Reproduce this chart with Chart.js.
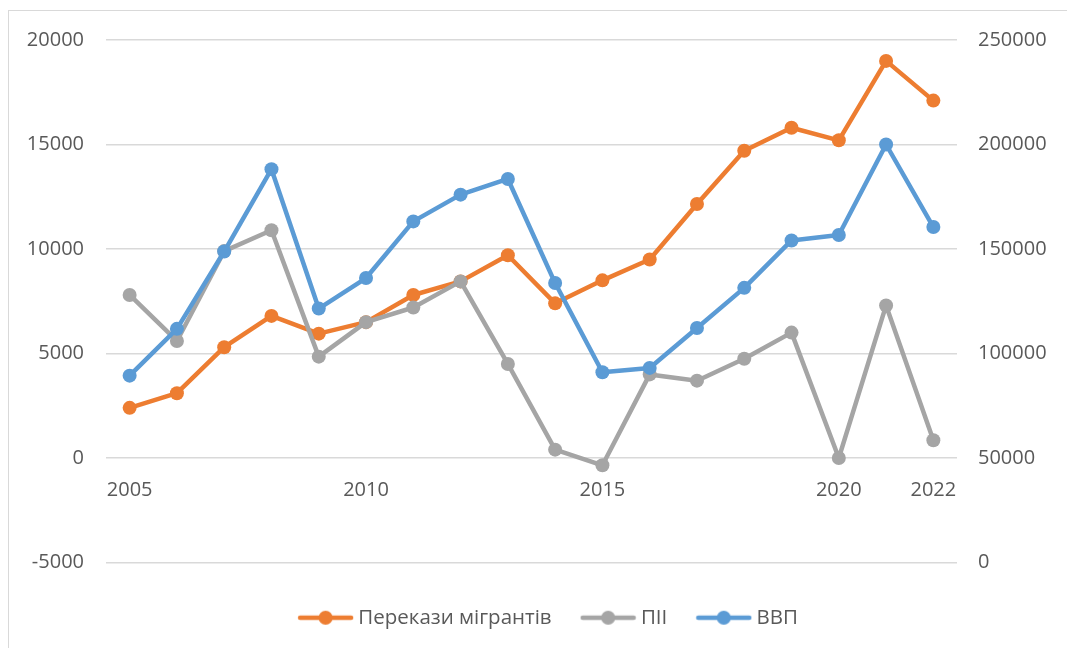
<!DOCTYPE html>
<html>
<head>
<meta charset="utf-8">
<script src="https://cdn.jsdelivr.net/npm/chart.js@4/dist/chart.umd.min.js"></script>
<style>
  html, body { margin: 0; padding: 0; background: #fff; overflow: hidden; }
  #frame { position: absolute; left: 8px; top: 10px; width: 1200px; height: 800px; border: 1px solid #d9d9d9; }
  #graphCanvas { position: absolute; left: 0; top: 0; }
</style>
</head>
<body>
<div id="frame"></div>
<canvas id="graphCanvas" width="1067" height="648"></canvas>
<script>
// Роки
const years = ['2005', '2006', '2007', '2008', '2009', '2010', '2011', '2012', '2013',
               '2014', '2015', '2016', '2017', '2018', '2019', '2020', '2021', '2022'];
// Підписи, які видно на осі
const shownYears = ['2005', '2010', '2015', '2020', '2022'];

// Перекази мігрантів (ліва вісь)
const remittances = [2400, 3100, 5300, 6800, 5950, 6500, 7800, 8450, 9700,
                     7400, 8500, 9500, 12150, 14700, 15800, 15200, 19000, 17100];
// ПІІ (ліва вісь)
const fdi = [7800, 5600, 9900, 10900, 4850, 6500, 7200, 8450, 4500,
             400, -350, 4000, 3700, 4750, 6000, 0, 7300, 850];
// ВВП (права вісь)
const gdp = [89400, 111800, 148800, 188200, 121500, 136100, 163200, 176000, 183500,
             133700, 91000, 93100, 112200, 131400, 154100, 156700, 200000, 160500];

const names = ['Перекази мігрантів', 'ПІІ', 'ВВП'];
const colors = ['#ED7D31', '#A5A5A5', '#5B9BD5'];

const textColor = '#595959';
const font = { family: 'Open Sans, Liberation Sans, sans-serif', size: 20 };
const legendFont = { family: 'Open Sans, Liberation Sans, sans-serif', size: 20.5 };

// маркер легенди: лінія з кружечком
function legendMarker(color) {
    const c = document.createElement('canvas');
    c.width = 57;
    c.height = 16;
    const g = c.getContext('2d');
    g.strokeStyle = color;
    g.lineWidth = 4.5;
    g.lineCap = 'round';
    g.beginPath();
    g.moveTo(3, 8);
    g.lineTo(54, 8);
    g.stroke();
    g.fillStyle = color;
    g.beginPath();
    g.arc(28.5, 8, 7, 0, Math.PI * 2);
    g.fill();
    return c;
}
const markers = colors.map(legendMarker);

// легенда в Excel трохи зсунута вправо від центру
const legendShift = {
    id: 'legendShift',
    afterLayout(chart) {
        chart.legend.left += 17;
        chart.legend.right += 17;
    }
};

function series(i, data, axis, order) {
    return {
        label: names[i],
        data: data,
        yAxisID: axis,
        order: order,
        borderColor: colors[i],
        backgroundColor: colors[i],
        borderWidth: 4.5,
        borderJoinStyle: 'round',
        borderCapStyle: 'round',
        pointRadius: 7,
        pointBorderWidth: 0,
        pointBackgroundColor: colors[i],
        tension: 0
    };
}

const plain = v => String(v);

const ctx = document.getElementById('graphCanvas').getContext('2d');
const chart = new Chart(ctx, {
    type: 'line',
    data: {
        labels: years,
        datasets: [
            series(0, remittances, 'y', 3),
            series(1, fdi, 'y', 2),
            series(2, gdp, 'y1', 1)
        ]
    },
    plugins: [legendShift],
    options: {
        responsive: false,
        animation: false,
        layout: { padding: { top: 40, bottom: 10, left: 0, right: 0 } },
        plugins: {
            tooltip: { enabled: false },
            legend: {
                position: 'bottom',
                labels: {
                    color: textColor,
                    font: legendFont,
                    padding: 34,
                    usePointStyle: true,
                    pointStyleWidth: 45,
                    generateLabels(chart) {
                        const items = Chart.defaults.plugins.legend.labels.generateLabels(chart);
                        items.forEach(it => { it.pointStyle = markers[it.datasetIndex]; });
                        return items;
                    },
                    sort: (a, b) => a.datasetIndex - b.datasetIndex
                }
            }
        },
        scales: {
            x: {
                type: 'category',
                offset: true,
                position: { y: 0 },
                grid: { display: false, drawTicks: false },
                border: { display: false },
                ticks: {
                    color: textColor,
                    font: font,
                    padding: 20,
                    autoSkip: false,
                    maxRotation: 0,
                    callback: function (value) {
                        const lbl = this.getLabelForValue(value);
                        return shownYears.includes(lbl) ? lbl : '';
                    }
                }
            },
            xPad: {
                type: 'category',
                position: 'bottom',
                grid: { display: false, drawTicks: false },
                border: { display: false },
                ticks: { display: false },
                afterFit: s => { s.height = 11; }
            },
            y: {
                position: 'left',
                min: -5000,
                max: 20000,
                grid: { color: '#D9D9D9', lineWidth: 1.5, drawTicks: false },
                border: { display: false },
                ticks: { stepSize: 5000, color: textColor, font: font, padding: 22, callback: plain },
                afterFit: s => { s.width = 106; }
            },
            y1: {
                position: 'right',
                min: 0,
                max: 250000,
                grid: { display: false, drawTicks: false },
                border: { display: false },
                ticks: { stepSize: 50000, color: textColor, font: font, padding: 21, callback: plain },
                afterFit: s => { s.width = 110; }
            }
        }
    }
});
</script>
</body>
</html>
